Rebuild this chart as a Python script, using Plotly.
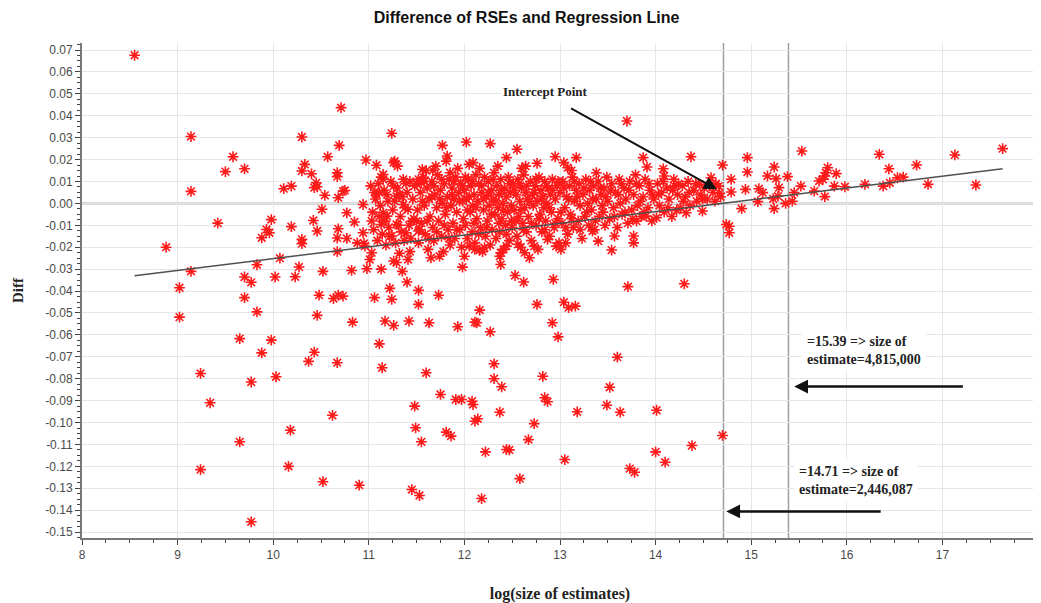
import plotly.graph_objects as go

# ---------------- data ----------------
left_pts = [
    (8.55, 0.0676), (9.14, 0.0305), (9.14, 0.0055), (8.88, -0.020), (9.02, -0.0385),
    (9.02, -0.0519), (9.14, -0.031), (9.24, -0.0776), (9.34, -0.091), (9.24, -0.1215),
    (9.42, -0.009), (9.50, 0.0145), (9.58, 0.0213), (9.70, 0.0158), (9.65, -0.0617),
    (9.65, -0.1088), (9.70, -0.043), (9.70, -0.0336), (9.77, -0.036), (9.77, -0.0815),
    (9.77, -0.1453), (9.83, -0.028), (9.83, -0.0495), (9.88, -0.0157), (9.88, -0.0682),
    (9.93, -0.0119), (9.96, -0.0134), (9.98, -0.0074), (9.98, -0.0624), (10.02, -0.0336),
    (10.03, -0.0791), (10.07, -0.025), (10.11, 0.0067), (10.16, -0.120), (10.18, -0.1035),
    (10.19, 0.0079), (10.19, -0.0106), (10.23, -0.0335), (10.27, -0.029), (10.30, 0.0303),
    (10.30, 0.0148), (10.30, -0.0164), (10.30, -0.0184), (10.33, 0.0178), (10.37, -0.0721),
    (10.40, 0.0135), (10.42, -0.0078), (10.43, -0.0679), (10.43, 0.0072), (10.45, 0.0094),
    (10.46, 0.0076), (10.46, -0.0126), (10.46, -0.0511), (10.48, -0.0419), (10.51, -0.0027),
    (10.52, -0.031), (10.52, -0.127), (10.54, 0.0037), (10.57, 0.0213), (10.62, -0.0967),
    (10.63, -0.0434), (10.67, 0.014), (10.67, 0.0122), (10.67, -0.0158), (10.67, -0.022),
    (10.67, -0.0727), (10.68, 0.0026), (10.68, -0.0116), (10.68, -0.0419), (10.69, 0.0265),
    (10.71, 0.0437), (10.73, -0.0423), (10.73, 0.0056), (10.75, 0.0059), (10.77, -0.0043),
    (10.77, -0.016), (10.82, -0.0306), (10.83, -0.0542), (10.85, -0.0085), (10.88, -0.018),
    (10.90, -0.1286),
]

middle_pts = [
    (10.94, -0.0005), (10.94, -0.0134), (10.95, -0.0183), (10.96, -0.0195), (10.97, 0.0198),
    (10.98, -0.0298), (11.01, -0.0256), (11.03, -0.0225), (11.06, -0.043), (11.08, 0.0174),
    (11.08, 0.0041), (11.11, -0.0641), (11.11, 0.0049), (11.13, -0.030), (11.13, -0.0096),
    (11.14, -0.075), (11.15, 0.0132), (11.15, -0.0043), (11.15, 0.011), (11.17, -0.0081),
    (11.17, -0.0537), (11.19, -0.0058), (11.22, -0.0388), (11.24, 0.032), (11.24, -0.0149),
    (11.24, -0.0438), (11.26, 0.0186), (11.26, -0.0263), (11.26, -0.0557), (11.27, 0.001),
    (11.27, 0.0193), (11.29, -0.027), (11.29, -0.0096), (11.29, 0.0033), (11.30, 0.017),
    (11.32, -0.0228), (11.32, 0.0041), (11.35, -0.031), (11.36, -0.0005), (11.39, 0.0091),
    (11.39, -0.0134), (11.40, -0.0359), (11.41, -0.0256), (11.41, -0.0027), (11.42, -0.0537),
    (11.43, -0.022), (11.45, -0.0081), (11.45, -0.1306), (11.48, -0.0925), (11.49, -0.1024),
    (11.50, -0.0081), (11.52, 0.011), (11.52, -0.0126), (11.52, -0.0397), (11.52, -0.0461),
    (11.53, -0.1333), (11.55, -0.1088), (11.56, 0.0155), (11.55, 0.0094), (11.60, -0.0773),
    (11.63, -0.0545), (11.65, -0.0248), (11.67, 0.0151), (11.73, -0.0419), (11.74, -0.0241),
    (11.75, -0.0872), (11.77, 0.0265), (11.81, -0.1044), (11.82, 0.0216), (11.81, 0.0193),
    (11.86, -0.1062), (11.91, -0.0895), (11.93, -0.0563), (11.97, -0.0895), (11.98, -0.0291),
    (12.00, -0.0241), (12.02, 0.028), (12.05, 0.0178), (12.05, -0.0195), (12.08, -0.0903),
    (12.09, -0.0918), (12.09, 0.0186), (12.11, -0.0542), (12.11, -0.0994), (12.11, -0.021),
    (12.13, -0.0545), (12.14, -0.0983), (12.16, -0.0487), (12.16, -0.0213), (12.18, -0.1347),
    (12.21, -0.0202), (12.22, -0.1134), (12.27, 0.0273), (12.27, -0.0586), (12.31, -0.0732),
    (12.31, -0.080), (12.37, -0.0953), (12.37, -0.0241), (12.38, -0.0225), (12.38, -0.0279),
    (12.39, -0.0837), (12.44, 0.0209), (12.44, -0.0195), (12.44, -0.1123), (12.47, -0.1125),
    (12.53, -0.0329), (12.55, 0.0247), (12.56, -0.0187), (12.58, -0.1256), (12.62, -0.0359),
    (12.63, -0.0225), (12.64, 0.017), (12.67, -0.1078), (12.68, -0.0248), (12.73, -0.1005),
    (12.73, -0.0195), (12.76, 0.0183), (12.76, -0.0461), (12.82, -0.0789), (12.84, -0.0887),
    (12.87, -0.0905), (12.87, -0.0164), (12.92, -0.0545), (12.93, -0.0347), (12.95, 0.0213),
    (12.96, -0.0195), (12.98, -0.0609), (13.01, -0.021), (13.04, 0.0186), (13.04, -0.0451),
    (13.05, -0.1169), (13.06, -0.018), (13.08, 0.0163), (13.09, -0.0476), (13.16, -0.0469),
    (13.17, 0.0209), (13.18, -0.0951), (13.34, -0.0126), (13.40, -0.0172), (13.49, -0.0921),
    (13.52, -0.0839), (13.54, -0.0213), (13.57, -0.0149), (13.60, -0.0702), (13.63, -0.0953),
    (13.70, 0.0376), (13.71, -0.038), (13.73, -0.121), (13.77, -0.0149), (13.77, -0.018),
    (13.78, -0.1227), (13.80, -0.0081), (13.87, 0.0209), (13.90, -0.0058), (13.91, 0.0166),
    (14.00, -0.1134), (14.01, -0.0944), (14.01, -0.0065), (14.08, 0.0158), (14.09, 0.0125),
    (14.10, -0.1181), (14.20, 0.0079), (14.22, -0.0032), (14.30, -0.0367), (14.32, -0.0043),
    (14.37, 0.0213), (14.38, -0.1105), (14.46, 0.0087), (14.49, -0.0035), (14.58, 0.0117),
    (14.66, 0.0079), (14.67, 0.0046), (14.70, 0.0175), (14.70, -0.1059), (14.74, -0.0096),
    (14.77, -0.0104), (14.77, -0.0134),
]

right_pts = [
    (14.79, 0.011), (14.79, 0.0052), (14.90, -0.0024), (14.94, 0.0064), (14.96, 0.0209),
    (14.96, 0.0143), (15.07, 0.0008), (15.08, 0.0067), (15.12, 0.0049), (15.17, 0.0125),
    (15.23, 0.0021), (15.24, 0.0166), (15.24, -0.0024), (15.26, 0.0113), (15.28, 0.0033),
    (15.29, 0.0072), (15.36, 0.0), (15.38, 0.0122), (15.43, 0.001), (15.45, 0.0049),
    (15.52, 0.0079), (15.53, 0.0239), (15.66, 0.0056), (15.71, 0.0102), (15.75, 0.011),
    (15.77, 0.0125), (15.77, 0.0031), (15.78, 0.014), (15.80, 0.0163), (15.87, 0.0079),
    (15.89, 0.0136), (15.98, 0.0076), (16.19, 0.0087), (16.34, 0.0224), (16.38, 0.0079),
    (16.44, 0.0158), (16.45, 0.0094), (16.53, 0.0117), (16.59, 0.012), (16.73, 0.0175),
    (16.85, 0.0087), (17.13, 0.0221), (17.35, 0.0084), (17.63, 0.025),
]

band_pts = [
    (11.02, 0.008), (11.04, -0.004), (11.05, -0.012), (11.07, 0.002), (11.09, -0.017),
    (11.10, 0.009), (11.12, -0.001), (11.14, -0.014), (11.16, 0.006), (11.18, -0.019),
    (11.20, 0.001), (11.21, -0.011), (11.23, 0.010), (11.25, -0.003), (11.28, -0.018),
    (11.30, 0.007), (11.33, -0.006), (11.34, -0.013), (11.36, 0.011), (11.38, -0.002),
    (11.40, 0.005), (11.42, -0.010), (11.44, -0.016), (11.46, 0.002), (11.48, 0.008),
    (11.51, -0.003), (11.52, -0.018), (11.54, 0.005), (11.55, -0.009), (11.57, 0.012),
    (11.58, -0.001), (11.59, -0.014), (11.61, 0.007), (11.62, -0.021), (11.63, 0.002),
    (11.64, -0.006), (11.66, 0.010), (11.67, -0.011), (11.68, -0.017), (11.69, 0.004),
    (11.71, -0.002), (11.72, 0.013), (11.73, -0.008), (11.75, 0.006), (11.76, -0.015),
    (11.77, 0.000), (11.78, -0.022), (11.79, 0.009), (11.80, -0.005), (11.82, 0.003),
    (11.83, -0.012), (11.84, 0.011), (11.85, -0.019), (11.86, -0.001), (11.87, 0.007),
    (11.88, -0.009), (11.89, 0.002), (11.90, -0.016), (11.91, 0.012), (11.92, -0.004),
    (11.94, 0.005), (11.95, -0.012), (11.96, 0.009), (11.97, -0.020), (11.98, 0.001),
    (11.99, -0.007), (11.93, 0.016), (11.70, 0.017), (11.60, 0.015), (11.85, 0.014),
    (12.00, 0.006), (12.01, -0.010), (12.02, 0.002), (12.03, -0.016), (12.04, 0.011),
    (12.06, -0.004), (12.07, 0.008), (12.08, -0.013), (12.09, -0.001), (12.10, 0.004),
    (12.11, -0.018), (12.12, 0.013), (12.13, -0.007), (12.14, 0.001), (12.15, 0.009),
    (12.17, -0.011), (12.18, 0.005), (12.19, -0.022), (12.20, -0.003), (12.21, 0.012),
    (12.22, -0.015), (12.23, 0.003), (12.24, -0.008), (12.25, 0.010), (12.26, -0.001),
    (12.27, -0.019), (12.28, 0.006), (12.29, -0.012), (12.30, 0.002), (12.31, 0.014),
    (12.32, -0.005), (12.33, -0.016), (12.34, 0.008), (12.35, -0.002), (12.36, 0.004),
    (12.37, -0.013), (12.38, 0.011), (12.39, -0.007), (12.40, 0.000), (12.41, -0.021),
    (12.42, 0.007), (12.43, -0.010), (12.44, 0.003), (12.45, -0.004), (12.46, 0.012),
    (12.47, -0.017), (12.48, 0.005), (12.49, -0.001), (12.16, 0.016), (12.35, 0.017),
    (12.50, -0.011), (12.51, 0.009), (12.52, -0.003), (12.54, 0.004), (12.55, -0.015),
    (12.56, 0.011), (12.57, -0.006), (12.58, 0.001), (12.59, -0.020), (12.60, 0.007),
    (12.61, -0.009), (12.62, 0.013), (12.63, -0.002), (12.64, 0.005), (12.65, -0.013),
    (12.66, 0.002), (12.67, -0.006), (12.69, 0.010), (12.70, -0.017), (12.71, 0.004),
    (12.72, -0.001), (12.74, 0.008), (12.75, -0.010), (12.76, 0.001), (12.77, -0.021),
    (12.78, 0.012), (12.79, -0.005), (12.80, 0.006), (12.81, -0.013), (12.82, 0.003),
    (12.83, -0.002), (12.84, 0.010), (12.85, -0.008), (12.86, 0.000), (12.88, 0.007),
    (12.89, -0.015), (12.90, 0.004), (12.91, -0.004), (12.92, 0.011), (12.94, -0.011),
    (12.95, 0.002), (12.97, 0.008), (12.98, -0.007), (12.99, -0.018), (12.60, 0.016),
    (13.00, 0.005), (13.02, -0.009), (13.03, 0.010), (13.05, -0.002), (13.07, 0.003),
    (13.08, -0.014), (13.10, 0.008), (13.11, -0.005), (13.13, 0.012), (13.14, -0.011),
    (13.15, 0.001), (13.17, 0.006), (13.19, -0.008), (13.20, 0.009), (13.21, -0.001),
    (13.23, -0.016), (13.24, 0.004), (13.26, -0.006), (13.27, 0.011), (13.29, 0.000),
    (13.30, -0.010), (13.31, 0.006), (13.33, -0.003), (13.35, 0.008), (13.36, -0.012),
    (13.38, 0.002), (13.40, 0.010), (13.41, -0.006), (13.43, 0.004), (13.44, -0.001),
    (13.46, 0.007), (13.47, -0.010), (13.49, 0.012), (13.12, 0.015), (13.38, 0.014),
    (13.50, 0.001), (13.52, -0.007), (13.54, 0.009), (13.56, -0.002), (13.58, 0.005),
    (13.60, -0.011), (13.62, 0.011), (13.63, 0.000), (13.65, -0.005), (13.67, 0.007),
    (13.69, 0.002), (13.71, -0.009), (13.73, 0.010), (13.75, -0.003), (13.77, 0.004),
    (13.79, 0.013), (13.81, -0.001), (13.83, 0.008), (13.85, -0.006), (13.87, 0.003),
    (13.89, 0.011), (13.92, -0.002), (13.94, 0.006), (13.96, -0.008), (13.98, 0.002),
    (14.02, 0.009), (14.04, -0.001), (14.06, 0.005), (14.09, -0.004), (14.12, 0.007),
    (14.14, 0.002), (14.17, -0.006), (14.19, 0.011), (14.23, 0.004), (14.26, -0.002),
    (14.28, 0.008), (14.31, 0.003), (14.34, 0.010), (14.36, -0.001), (14.40, 0.006),
    (14.43, 0.001), (14.47, 0.004), (14.51, 0.007), (14.54, 0.002), (14.60, 0.005),
    (14.63, 0.009), (14.68, 0.003),
]

band_pts_2 = [
    (11.03, -0.008), (11.06, 0.005), (11.11, -0.006), (11.13, 0.012), (11.19, 0.004),
    (11.22, -0.015), (11.26, 0.008), (11.31, -0.010), (11.35, 0.003), (11.37, -0.017),
    (11.43, 0.010), (11.47, -0.007), (11.50, 0.009), (11.53, -0.012), (11.56, 0.001),
    (11.58, 0.010), (11.61, -0.008), (11.63, -0.016), (11.66, 0.003), (11.68, 0.008),
    (11.71, -0.013), (11.74, 0.002), (11.76, 0.011), (11.79, -0.010), (11.81, -0.002),
    (11.84, -0.016), (11.87, 0.004), (11.89, 0.010), (11.92, -0.012), (11.95, 0.001),
    (11.98, 0.008), (12.01, 0.012), (12.03, -0.003), (12.05, 0.003), (12.08, 0.010),
    (12.10, -0.009), (12.12, -0.002), (12.15, -0.014), (12.18, 0.008), (12.20, 0.002),
    (12.23, -0.011), (12.25, 0.005), (12.28, -0.005), (12.30, 0.011), (12.33, 0.001),
    (12.36, -0.009), (12.39, 0.006), (12.41, -0.003), (12.44, -0.014), (12.47, 0.009),
    (12.49, -0.008), (12.52, 0.006), (12.54, -0.008), (12.57, 0.009), (12.59, -0.003),
    (12.62, -0.012), (12.65, 0.008), (12.68, 0.001), (12.70, -0.009), (12.73, 0.005),
    (12.75, 0.011), (12.78, -0.007), (12.81, 0.002), (12.84, -0.012), (12.86, 0.008),
    (12.89, -0.002), (12.92, 0.006), (12.95, -0.009), (12.98, 0.010), (13.01, -0.004),
    (13.04, 0.007), (13.06, -0.011), (13.09, 0.002), (13.12, -0.007), (13.15, 0.010),
    (13.18, 0.003), (13.21, -0.012), (13.25, 0.007), (13.28, -0.004), (13.32, 0.010),
    (13.34, 0.002), (13.37, -0.008), (13.42, 0.007), (13.45, -0.004), (13.48, 0.003),
    (13.53, 0.006), (13.57, -0.006), (13.61, 0.004), (13.64, 0.009), (13.68, -0.004),
    (13.72, 0.006), (13.76, -0.007), (13.80, 0.009), (13.84, 0.001), (13.88, -0.004),
    (13.93, 0.009), (13.97, 0.004), (14.03, 0.004), (14.08, 0.010), (14.13, -0.002),
    (14.18, 0.006), (14.24, 0.009), (14.29, 0.001), (14.35, 0.005), (14.42, 0.009),
    (14.49, 0.002), (14.56, 0.008), (14.62, 0.001),
]

reg_x = [8.55, 17.63]
reg_y = [-0.0330, 0.0158]
cutoffs = [14.71, 15.39]

x_ticks = list(range(8, 19))
y_ticks = [round(-0.15 + 0.01 * i, 2) for i in range(23)]

# ---------------- figure ----------------
all_pts = left_pts + middle_pts + band_pts + band_pts_2 + right_pts
xs = [p[0] for p in all_pts]
ys = [p[1] for p in all_pts]

fig = go.Figure()
fig.add_trace(go.Scatter(
    x=xs, y=ys, mode="markers",
    marker=dict(symbol="asterisk-open", size=9, color="#ff1a1a",
                line=dict(color="#ff1a1a", width=1.6)),
    showlegend=False, hoverinfo="x+y",
))
fig.add_trace(go.Scatter(
    x=reg_x, y=reg_y, mode="lines",
    line=dict(color="#505050", width=1.5), showlegend=False,
))

fig.add_hline(y=0, line=dict(color="#5a5a5a", width=1.5), layer="below")
for c in cutoffs:
    fig.add_vline(x=c, line=dict(color="#a0a0a0", width=1.5), layer="below")

serif = "Liberation Serif, DejaVu Serif, serif"
sans = "Liberation Sans, Arial, sans-serif"

# arrows
fig.add_annotation(x=14.64, y=0.0064, ax=13.10, ay=0.0438, axref="x", ayref="y",
                   xref="x", yref="y", text="", showarrow=True, arrowhead=2,
                   arrowsize=1.3, arrowwidth=2, arrowcolor="#111111")
fig.add_annotation(x=15.45, y=-0.0836, ax=17.23, ay=-0.0836, axref="x", ayref="y",
                   xref="x", yref="y", text="", showarrow=True, arrowhead=2,
                   arrowsize=1.1, arrowwidth=2.5, arrowcolor="#111111")
fig.add_annotation(x=14.74, y=-0.1406, ax=16.37, ay=-0.1406, axref="x", ayref="y",
                   xref="x", yref="y", text="", showarrow=True, arrowhead=2,
                   arrowsize=1.1, arrowwidth=2.5, arrowcolor="#111111")

# text labels
fig.add_annotation(x=12.38, y=0.0510, xref="x", yref="y", text="<b>Intercept Point</b>",
                   showarrow=False, xanchor="left", yanchor="middle",
                   font=dict(family=serif, size=13, color="#222222"), bgcolor="white")
fig.add_annotation(x=15.53, y=-0.0670, xref="x", yref="y",
                   text="<b>=15.39 => size of<br>estimate=4,815,000</b>",
                   showarrow=False, xanchor="left", yanchor="middle", align="left",
                   font=dict(family=serif, size=14, color="#222222"), bgcolor="white",
                   borderpad=4)
fig.add_annotation(x=15.45, y=-0.1265, xref="x", yref="y",
                   text="<b>=14.71 => size of<br>estimate=2,446,087</b>",
                   showarrow=False, xanchor="left", yanchor="middle", align="left",
                   font=dict(family=serif, size=14, color="#222222"), bgcolor="white",
                   borderpad=4)

# the page body adds an 8px offset, so the figure is sized to fit the window
fig.update_layout(
    width=1033, height=595,
    margin=dict(l=74, r=3, t=35, b=65),
    paper_bgcolor="white", plot_bgcolor="white",
    title=dict(text="<b>Difference of RSEs and Regression Line</b>",
               x=0.502, xanchor="center", y=0.984, yanchor="middle",
               font=dict(family=sans, size=16, color="#111111")),
    font=dict(family=sans),
)
fig.update_xaxes(
    range=[8, 18], tickvals=x_ticks, ticktext=[str(t) for t in x_ticks],
    automargin=False,
    showgrid=True, gridcolor="#e6e6e6", gridwidth=1,
    showline=True, linecolor="#777777", linewidth=2, mirror=False,
    ticks="outside", ticklen=5, tickcolor="#444444",
    minor=dict(dtick=0.25, ticks="outside", ticklen=3, tickcolor="#444444", showgrid=False),
    tickfont=dict(family=sans, size=12, color="#4a4a4a"),
    title=dict(text="<b>log(size of estimates)</b>", standoff=27,
               font=dict(family=serif, size=16, color="#222222")),
    zeroline=False,
)
fig.update_yaxes(
    range=[-0.1527, 0.0732], tickvals=y_ticks, ticktext=[f"{v:.2f}" for v in y_ticks],
    automargin=False,
    showgrid=True, gridcolor="#e6e6e6", gridwidth=1,
    showline=True, linecolor="#777777", linewidth=2, mirror=False,
    ticks="outside", ticklen=5, tickcolor="#444444",
    minor=dict(dtick=0.0025, ticks="outside", ticklen=3, tickcolor="#444444", showgrid=False),
    tickfont=dict(family=sans, size=12, color="#4a4a4a"),
    title=dict(text="<b>Diff</b>", standoff=18,
               font=dict(family=serif, size=15, color="#222222")),
    zeroline=False,
)

fig.write_html("out.html")
